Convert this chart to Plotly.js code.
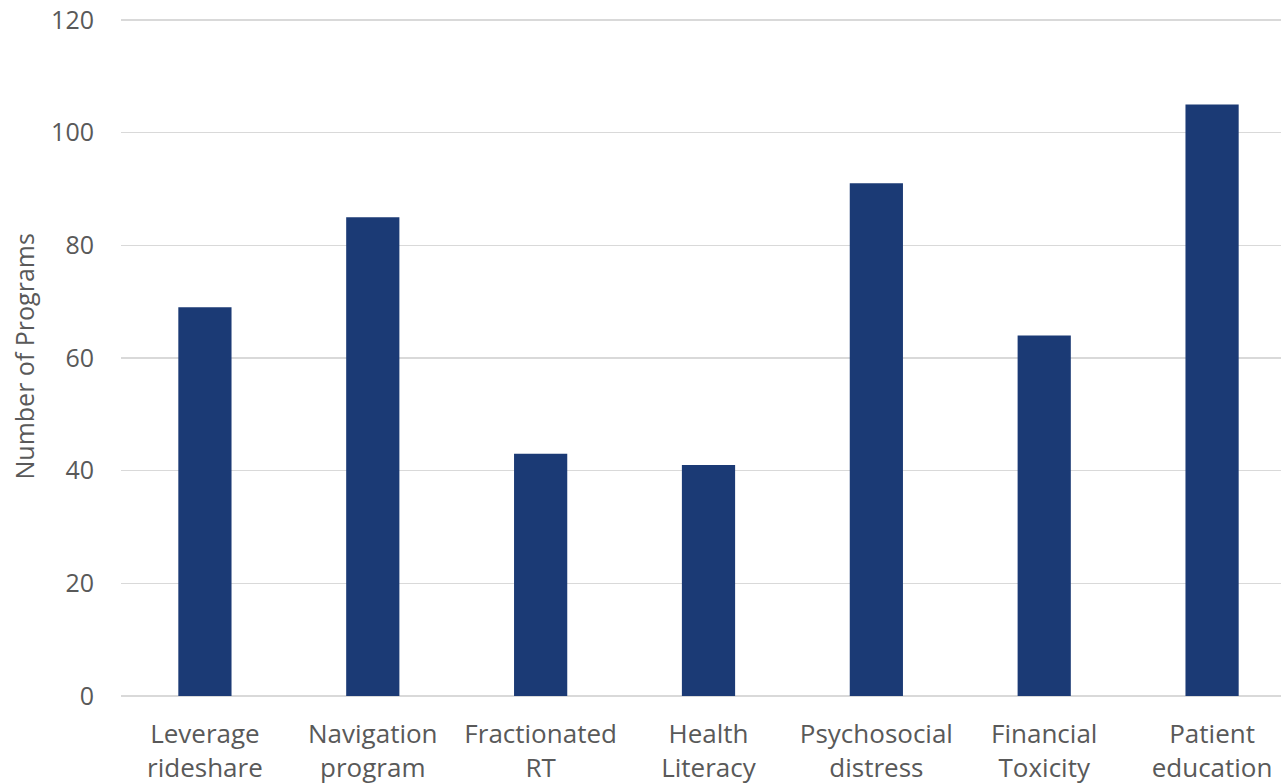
<!DOCTYPE html>
<html>
<head>
<meta charset="utf-8">
<script src="https://cdn.plot.ly/plotly-3.0.1.min.js"></script>
<style>
  html, body { margin: 0; padding: 0; background: #fff; overflow: hidden; }
  #chart { width: 1296px; height: 783px; }
</style>
</head>
<body>
<div id="chart"></div>
<script>
// Programs offered, by intervention type
const categories = [
  'Leverage<br>rideshare',
  'Navigation<br>program',
  'Fractionated<br>RT',
  'Health<br>Literacy',
  'Psychosocial<br>distress',
  'Financial<br>Toxicity',
  'Patient<br>education'
];
const programCounts = [69, 85, 43, 41, 91, 64, 105];
const yTicks = [0, 20, 40, 60, 80, 100, 120];
const yTitle = 'Number of Programs';

const textColor = '#595959';
const gridColor = '#d9d9d9';
const fontFamily = '"Open Sans", sans-serif';

const data = [{
  type: 'bar',
  x: categories,
  y: programCounts,
  marker: { color: '#1b3a75', line: { width: 0 } },
  hoverinfo: 'x+y'
}];

// small headroom above 120 so the top gridline is kept
const yMax = 120.53;

const layout = {
  width: 1296,
  height: 783,
  margin: { l: 121, r: 0, t: 17, b: 87, pad: 0 },
  paper_bgcolor: '#ffffff',
  plot_bgcolor: '#ffffff',
  bargap: 0.683,
  showlegend: false,
  font: { family: fontFamily, color: textColor, size: 26 },
  xaxis: {
    type: 'category',
    showgrid: false,
    showline: false,
    zeroline: false,
    ticks: '',
    tickfont: { family: fontFamily, size: 26, color: textColor },
    ticklabelstandoff: 20,
    automargin: false
  },
  yaxis: {
    range: [0, yMax],
    tickvals: yTicks,
    ticktext: yTicks.map(String),
    showgrid: true,
    gridcolor: gridColor,
    gridwidth: 1.5,
    zeroline: true,
    zerolinecolor: gridColor,
    zerolinewidth: 1.5,
    showline: false,
    ticks: '',
    tickfont: { family: fontFamily, size: 25, color: textColor },
    ticklabelstandoff: 26,
    automargin: false
  },
  annotations: [{
    text: yTitle,
    xref: 'paper', yref: 'paper',
    x: 0, y: 0.5,
    xanchor: 'center', yanchor: 'middle',
    xshift: -98,
    textangle: -90,
    showarrow: false,
    font: { family: fontFamily, size: 25, color: textColor }
  }]
};

Plotly.newPlot('chart', data, layout, { displayModeBar: false, staticPlot: true });
</script>
</body>
</html>
